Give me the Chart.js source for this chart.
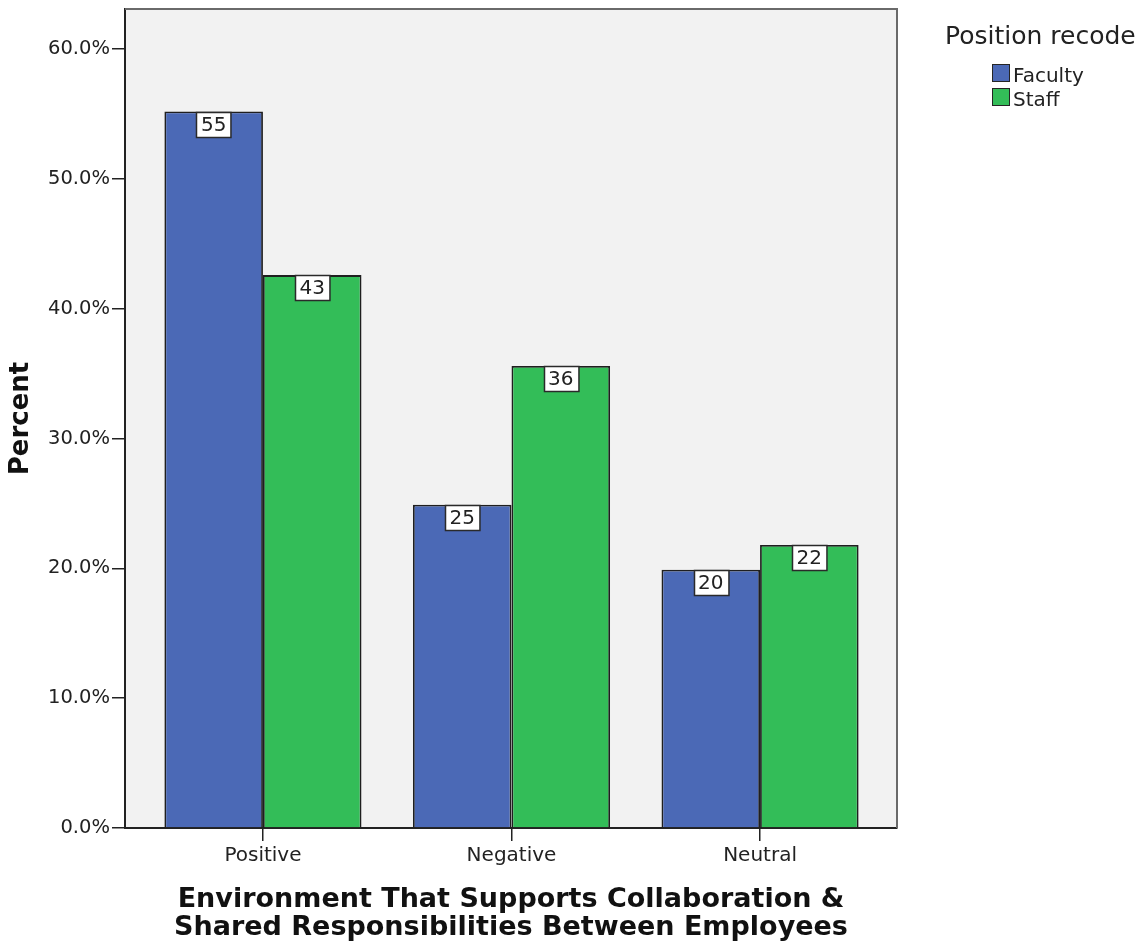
<!DOCTYPE html>
<html>
<head>
<meta charset="utf-8">
<title>Environment That Supports Collaboration &amp; Shared Responsibilities Between Employees</title>
<script src="https://cdn.jsdelivr.net/npm/chart.js@4.4.1/dist/chart.umd.min.js"></script>
<style>
  html, body { margin: 0; padding: 0; background: #ffffff; }
  #wrap { position: relative; width: 1148px; height: 945px; font-family: "DejaVu Sans", sans-serif; color: #222222; }
  #legend { position: absolute; left: 945px; top: 0; width: 200px; height: 120px; }
  #legend .title { position: absolute; left: 0; top: 21px; font-size: 25px; line-height: 30px; white-space: nowrap; }
  #legend .item { position: absolute; left: 47px; height: 24px; white-space: nowrap; }
  #legend .swatch { position: absolute; left: 0; top: 1px; width: 16px; height: 16px; border: 1.5px solid #252525; }
  #legend .label { position: absolute; left: 21px; top: 0; font-size: 20px; line-height: 24px; }
</style>
</head>
<body>
<div id="wrap">
  <canvas id="chart" width="1148" height="945"></canvas>
  <div id="legend"></div>
</div>
<script>
// Response categories on the x axis
const categories = ['Positive', 'Negative', 'Neutral'];

// Percent of each group giving each response
const facultyPercent = [55.2, 24.9, 19.9];
const staffPercent = [42.6, 35.6, 21.8];

// Series names, legend heading and y-axis tick values
const seriesNames = ['Faculty', 'Staff'];
const legendTitle = 'Position recode';
const yTickValues = [0, 10, 20, 30, 40, 50, 60];

const FONT = 'DejaVu Sans';
const INK = '#222222';

// Plot panel: grey fill behind the bars, thin frame on top and right
const panelPlugin = {
  id: 'panel',
  beforeDraw(chart) {
    const { ctx, chartArea: a } = chart;
    ctx.save();
    ctx.fillStyle = '#f2f2f2';
    ctx.fillRect(a.left, a.top, a.right - a.left, a.bottom - a.top);
    ctx.restore();
  },
  afterDraw(chart) {
    const { ctx, chartArea: a } = chart;
    ctx.save();
    ctx.strokeStyle = '#6a6a6a';
    ctx.lineWidth = 2;
    ctx.beginPath();
    ctx.moveTo(a.left, a.top);
    ctx.lineTo(a.right, a.top);
    ctx.lineTo(a.right, a.bottom);
    ctx.stroke();
    ctx.restore();
  }
};

// Boxed value label hanging from the top of every bar
const barLabelPlugin = {
  id: 'barLabels',
  afterDatasetsDraw(chart) {
    const { ctx } = chart;
    ctx.save();
    ctx.font = '20px "' + FONT + '"';
    ctx.textAlign = 'center';
    ctx.textBaseline = 'middle';
    chart.data.datasets.forEach((ds, di) => {
      const meta = chart.getDatasetMeta(di);
      meta.data.forEach((bar, i) => {
        const text = String(Math.round(ds.data[i].y));
        const w = ctx.measureText(text).width + 9;
        const h = 25;
        const x = Math.round(bar.x - w / 2) + 0.5;
        const y = Math.round(bar.y) + 0.5;
        ctx.fillStyle = '#ffffff';
        ctx.fillRect(x, y, w, h);
        ctx.strokeStyle = '#2a2a2a';
        ctx.lineWidth = 1.5;
        ctx.strokeRect(x, y, w, h);
        ctx.fillStyle = INK;
        ctx.fillText(text, bar.x, y + h / 2 + 1);
      });
    });
    ctx.restore();
  }
};

// Legend built from the chart's own legend items
const htmlLegendPlugin = {
  id: 'htmlLegend',
  afterUpdate(chart) {
    const box = document.getElementById('legend');
    box.innerHTML = '';
    const title = document.createElement('div');
    title.className = 'title';
    title.textContent = legendTitle;
    box.appendChild(title);
    const items = chart.options.plugins.legend.labels.generateLabels(chart);
    items.forEach((item, i) => {
      const row = document.createElement('div');
      row.className = 'item';
      row.style.top = (63 + i * 24) + 'px';
      const swatch = document.createElement('span');
      swatch.className = 'swatch';
      swatch.style.background = item.fillStyle;
      const label = document.createElement('span');
      label.className = 'label';
      label.textContent = item.text;
      row.appendChild(swatch);
      row.appendChild(label);
      box.appendChild(row);
    });
  }
};

const toPoints = (values) => values.map((v, i) => ({ x: i, y: v }));

new Chart(document.getElementById('chart'), {
  type: 'bar',
  data: {
    datasets: [
      {
        label: seriesNames[0],
        data: toPoints(facultyPercent),
        backgroundColor: '#4b69b6',
        borderColor: '#1f1f1f',
        borderWidth: 1.8
      },
      {
        label: seriesNames[1],
        data: toPoints(staffPercent),
        backgroundColor: '#33bd58',
        borderColor: '#1f1f1f',
        borderWidth: 1.8
      }
    ]
  },
  options: {
    responsive: false,
    animation: false,
    categoryPercentage: 0.793,
    barPercentage: 1.0,
    layout: { padding: { top: 9, left: 0, right: 251, bottom: 0 } },
    plugins: {
      tooltip: { enabled: false },
      legend: { display: false }
    },
    scales: {
      x: {
        type: 'linear',
        position: 'bottom',
        offset: false,
        min: -0.555,
        max: 2.551,
        afterFit: (s) => { s.height = 117; s.paddingLeft = 0; s.paddingRight = 0; },
        afterBuildTicks: (s) => { s.ticks = categories.map((_, i) => ({ value: i })); },
        ticks: {
          callback: (v) => categories[v],
          color: INK,
          font: { family: FONT, size: 20 },
          padding: 3,
          maxRotation: 0,
          autoSkip: false
        },
        grid: {
          display: true,
          offset: false,
          drawOnChartArea: false,
          drawTicks: true,
          tickLength: 13,
          color: '#222222',
          lineWidth: 1.5
        },
        border: { display: true, color: '#222222', width: 2 },
        title: {
          display: true,
          text: ['Environment That Supports Collaboration &', 'Shared Responsibilities Between Employees'],
          color: '#111111',
          font: { family: FONT, size: 27, weight: 'bold', lineHeight: '28px' },
          padding: { top: 0, bottom: 3 }
        }
      },
      y: {
        position: 'left',
        min: 0,
        max: 63.1,
        afterFit: (s) => { s.width = 125; s.paddingTop = 0; s.paddingBottom = 0; },
        afterBuildTicks: (s) => { s.ticks = yTickValues.map((v) => ({ value: v })); },
        ticks: {
          callback: (v) => v.toFixed(1) + '%',
          color: INK,
          font: { family: FONT, size: 19.5 },
          padding: 2
        },
        grid: {
          display: true,
          drawOnChartArea: false,
          drawTicks: true,
          tickLength: 13,
          color: '#222222',
          lineWidth: 1.5
        },
        border: { display: true, color: '#222222', width: 2 },
        title: {
          display: true,
          text: 'Percent',
          color: '#111111',
          font: { family: FONT, size: 26, weight: 'bold' },
          padding: { top: 6, bottom: 0 }
        }
      }
    }
  },
  plugins: [panelPlugin, barLabelPlugin, htmlLegendPlugin]
});
</script>
</body>
</html>
